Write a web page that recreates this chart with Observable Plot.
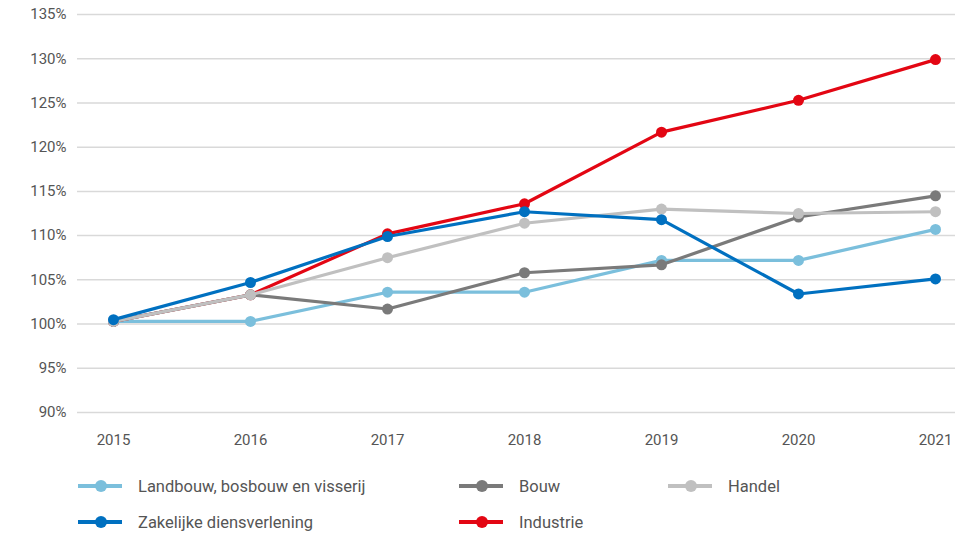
<!DOCTYPE html>
<html>
<head>
<meta charset="utf-8">
<script src="https://cdn.jsdelivr.net/npm/d3@7"></script>
<script src="https://cdn.jsdelivr.net/npm/@observablehq/plot@0.6"></script>
<style>
  body { margin: 0; background: #fff; font-family: Roboto, "Noto Sans", sans-serif; }
  #legend { display: grid; grid-template-columns: 381px 209px 200px; row-gap: 14px; margin-left: 78px; margin-top: 20px; color: #555; font-size: 16.5px; }
  .item { display: flex; align-items: center; height: 22px; }
  .sw { position: relative; width: 44px; height: 4px; margin-right: 16px; }
  .sw i { position: absolute; left: 17px; top: -4px; width: 12px; height: 12px; border-radius: 50%; }
</style>
</head>
<body>
<div id="chart"></div>
<div id="legend"></div>
<script>
const years = [2015, 2016, 2017, 2018, 2019, 2020, 2021];
const seriesNames = ["Landbouw, bosbouw en visserij", "Bouw", "Handel", "Zakelijke diensverlening", "Industrie"];
const colors = ["#7bbfdc", "#7a7a7a", "#c0c0c0", "#0070c0", "#e30613"];
const landbouw = [100.3, 100.3, 103.6, 103.6, 107.2, 107.2, 110.7];
const bouw = [100.3, 103.3, 101.7, 105.8, 106.7, 112.1, 114.5];
const handel = [100.3, 103.3, 107.5, 111.4, 113.0, 112.5, 112.7];
const zakelijk = [100.5, 104.7, 109.9, 112.7, 111.8, 103.4, 105.1];
const industrie = [100.3, 103.3, 110.2, 113.6, 121.7, 125.3, 129.9];
const yTicks = [90, 95, 100, 105, 110, 115, 120, 125, 130, 135];

const values = [landbouw, bouw, handel, zakelijk, industrie];
const drawOrder = [0, 4, 1, 2, 3];

const marks = [Plot.gridY(yTicks, {stroke: "#d9d9d9", strokeOpacity: 1, strokeWidth: 1.5})];
for (const i of drawOrder) {
  const data = years.map((y, j) => ({year: y, value: values[i][j]}));
  marks.push(Plot.line(data, {x: "year", y: "value", stroke: colors[i], strokeWidth: 3.2}));
  marks.push(Plot.dot(data, {x: "year", y: "value", fill: colors[i], r: 5.5}));
}
marks.push(Plot.axisY(yTicks, {tickSize: 0, tickPadding: 11, tickFormat: d => d + "%", fontSize: 15, color: "#555", label: null}));
marks.push(Plot.axisX(years, {tickSize: 0, tickPadding: 22, tickFormat: d => String(d), fontSize: 15, color: "#555", label: null}));

const chart = Plot.plot({
  width: 977,
  height: 455,
  marginLeft: 77,
  marginRight: 22,
  marginTop: 14,
  marginBottom: 43,
  insetLeft: 36,
  insetRight: 20,
  style: {fontFamily: "Roboto, 'Noto Sans', sans-serif", color: "#555"},
  x: {domain: [2015, 2021], label: null},
  y: {domain: [90, 135], label: null},
  marks
});
document.getElementById("chart").appendChild(chart);

const legendOrder = [0, 1, 2, 3, 4];
const legend = document.getElementById("legend");
for (const i of legendOrder) {
  const item = document.createElement("div");
  item.className = "item";
  item.innerHTML = `<span class="sw" style="background:${colors[i]}"><i style="background:${colors[i]}"></i></span><span>${seriesNames[i]}</span>`;
  legend.appendChild(item);
}
</script>
</body>
</html>
